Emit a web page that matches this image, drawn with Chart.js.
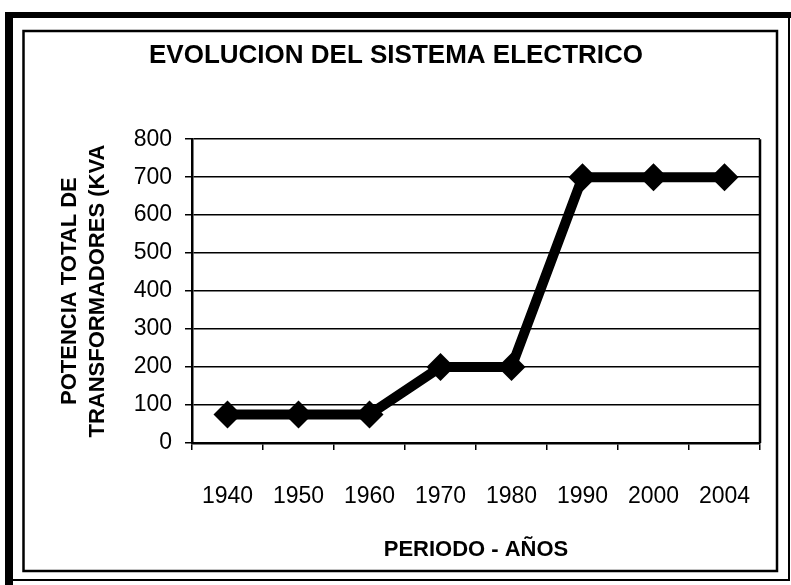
<!DOCTYPE html>
<html>
<head>
<meta charset="utf-8">
<script src="https://cdn.jsdelivr.net/npm/chart.js@4"></script>
<style>
  html, body { margin: 0; padding: 0; background: #fff; }
  canvas { display: block; }
</style>
</head>
<body>
<canvas id="chart" width="791" height="585"></canvas>
<script>
// Data
const years = ['1940', '1950', '1960', '1970', '1980', '1990', '2000', '2004'];
const potencia = [75, 75, 75, 200, 200, 700, 700, 700];
const yTicks = [0, 100, 200, 300, 400, 500, 600, 700, 800];

const chartTitle = 'EVOLUCION DEL SISTEMA ELECTRICO';
const yTitle = ['POTENCIA TOTAL DE', 'TRANSFORMADORES (KVA'];
const xTitle = 'PERIODO - AÑOS';

// Frames around the chart and the right edge of the plot area
const framePlugin = {
    id: 'frames',
    afterDraw(chart) {
        const ctx = chart.ctx;
        const area = chart.chartArea;
        ctx.save();
        ctx.strokeStyle = '#000';

        // outer frame
        ctx.lineWidth = 8;
        ctx.beginPath();
        ctx.moveTo(9, 585);
        ctx.lineTo(9, 15);
        ctx.stroke();
        ctx.lineWidth = 6;
        ctx.beginPath();
        ctx.moveTo(5, 15);
        ctx.lineTo(791, 15);
        ctx.stroke();
        ctx.lineWidth = 2;
        ctx.beginPath();
        ctx.moveTo(789, 15);
        ctx.lineTo(789, 581);
        ctx.moveTo(5, 580);
        ctx.lineTo(789, 580);
        ctx.stroke();

        // inner frame
        ctx.lineWidth = 2.5;
        ctx.strokeRect(23.5, 31, 753.5, 540);

        // plot area right edge
        ctx.lineWidth = 2.5;
        ctx.beginPath();
        ctx.moveTo(area.right, area.top);
        ctx.lineTo(area.right, area.bottom);
        ctx.stroke();
        ctx.restore();
    }
};

const ctx = document.getElementById('chart').getContext('2d');

new Chart(ctx, {
    type: 'line',
    data: {
        labels: years,
        datasets: [{
            label: 'Potencia',
            data: potencia,
            borderColor: '#000',
            backgroundColor: '#000',
            borderWidth: 10,
            tension: 0,
            pointStyle: 'rectRot',
            pointRadius: 14,
            pointHoverRadius: 14,
            pointBorderWidth: 0,
            fill: false
        }]
    },
    options: {
        responsive: false,
        animation: false,
        events: [],
        layout: {
            padding: { left: 32, right: 31, top: 0, bottom: 0 }
        },
        scales: {
            x: {
                offset: true,
                afterFit(scale) { scale.height = 142; },
                grid: {
                    offset: true,
                    drawOnChartArea: false,
                    color: '#000',
                    lineWidth: 1.5,
                    tickLength: 7
                },
                border: { color: '#000', width: 2.5 },
                ticks: {
                    color: '#000',
                    padding: 33,
                    maxRotation: 0,
                    font: { family: 'Arial, "Liberation Sans"', size: 23 }
                },
                title: {
                    display: true,
                    text: xTitle,
                    color: '#000',
                    padding: { top: 0, bottom: 22 },
                    font: { family: 'Arial, "Liberation Sans"', size: 22, weight: 'bold' }
                }
            },
            y: {
                min: 0,
                max: 800,
                afterFit(scale) { scale.width = 160; },
                afterBuildTicks(scale) {
                    scale.ticks = yTicks.map(v => ({ value: v }));
                },
                grid: {
                    color: '#000',
                    lineWidth: 1.5,
                    tickLength: 7
                },
                border: { color: '#000', width: 2.5 },
                ticks: {
                    color: '#000',
                    padding: 13,
                    font: { family: 'Arial, "Liberation Sans"', size: 23 }
                },
                title: {
                    display: true,
                    text: yTitle,
                    color: '#000',
                    padding: { top: 24, bottom: 0 },
                    font: { family: 'Arial, "Liberation Sans"', size: 22, weight: 'bold', lineHeight: 1.27 }
                }
            }
        },
        plugins: {
            legend: { display: false },
            tooltip: { enabled: false },
            title: {
                display: true,
                text: chartTitle,
                color: '#000',
                padding: { top: 40, bottom: 68 },
                font: { family: 'Arial, "Liberation Sans"', size: 26, weight: 'bold' }
            }
        }
    },
    plugins: [framePlugin]
});
</script>
</body>
</html>
